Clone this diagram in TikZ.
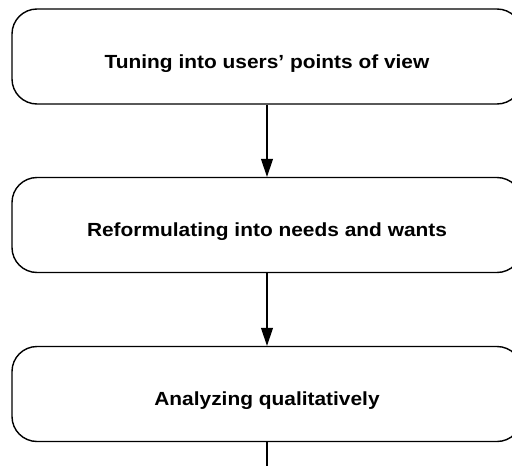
\documentclass[tikz,border=0pt]{standalone}
\usepackage{fontspec}
\usepackage{graphicx}
\setmainfont{Liberation Sans}
\usetikzlibrary{arrows.meta}
\tikzset{
  stagebox/.style={draw=black, line width=1.4pt, rounded corners=25pt, fill=white,
    minimum width=510pt, minimum height=95pt, inner sep=0pt,
    text height=23pt, text depth=0pt,
    font=\fontsize{19}{22}\selectfont\bfseries},
  flow/.style={draw=black, line width=1.1pt, -{Triangle[length=18pt,width=12pt]}},
  flowplain/.style={draw=black, line width=1.1pt}
}
\begin{document}
\begin{tikzpicture}[x=1pt,y=-1pt]
\useasboundingbox (0,0) rectangle (512,466);
\clip (0,0) rectangle (512,466);
\node[stagebox] (b1) at (267,56.5) {\scalebox{1.1}[1]{Tuning into users' points of view}};
\node[stagebox] (b2) at (267,225) {\scalebox{1.1}[1]{Reformulating into needs and wants}};
\node[stagebox] (b3) at (267,394) {\scalebox{1.1}[1]{Analyzing qualitatively}};
\coordinate (end) at (267,472);
\draw[flow] (b1) -- (b2);
\draw[flow] (b2) -- (b3);
\draw[flowplain] (b3) -- (end);
\end{tikzpicture}
\end{document}
